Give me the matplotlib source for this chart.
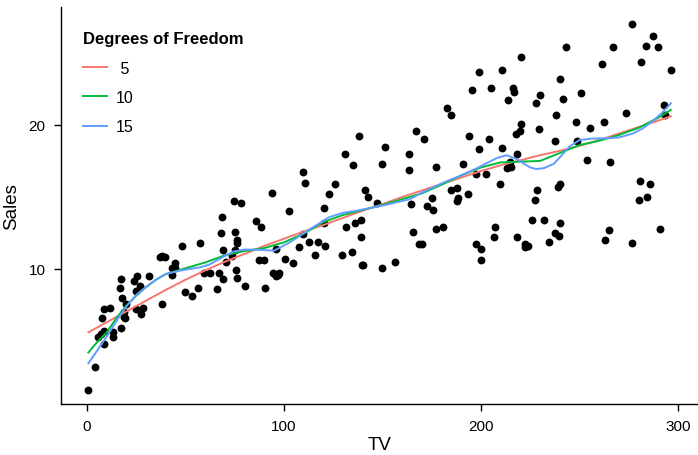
import matplotlib
matplotlib.use("Agg")
import matplotlib.pyplot as plt

plt.rcParams['font.family'] = ['Liberation Sans', 'DejaVu Sans']

# Advertising data: TV budget vs. sales
tv = [230.1, 44.5, 17.2, 151.5, 180.8, 8.7, 57.5, 120.2, 8.6, 199.8,
      66.1, 214.7, 23.8, 97.5, 204.1, 195.4, 67.8, 281.4, 69.2, 147.3,
      218.4, 237.4, 13.2, 228.3, 62.3, 262.9, 142.9, 240.1, 248.8, 70.6,
      292.9, 112.9, 97.2, 265.6, 95.7, 290.7, 266.9, 74.7, 43.1, 228.0,
      202.5, 177.0, 293.6, 206.9, 25.1, 175.1, 89.7, 239.9, 227.2, 66.9,
      199.8, 100.4, 216.4, 182.6, 262.7, 198.9, 7.3, 136.2, 210.8, 210.7,
      53.5, 261.3, 239.3, 102.7, 131.1, 69.0, 31.5, 139.3, 237.4, 216.8,
      199.1, 109.8, 26.8, 129.4, 213.4, 16.9, 27.5, 120.5, 5.4, 116.0,
      76.4, 239.8, 75.3, 68.4, 213.5, 193.2, 76.3, 110.7, 88.3, 109.8,
      134.3, 28.6, 217.7, 250.9, 107.4, 163.3, 197.6, 184.9, 289.7, 135.2,
      222.4, 296.4, 280.2, 187.9, 238.2, 137.9, 25.0, 90.4, 13.1, 255.4,
      225.8, 241.7, 175.7, 209.6, 78.2, 75.1, 139.2, 76.4, 125.7, 19.4,
      141.3, 18.8, 224.0, 123.1, 229.5, 87.2, 7.8, 80.2, 220.3, 59.6,
      0.7, 265.2, 8.4, 219.8, 36.9, 48.3, 25.6, 273.7, 43.0, 184.9,
      73.4, 193.7, 220.5, 104.6, 96.2, 140.3, 240.1, 243.2, 38.0, 44.7,
      280.7, 121.0, 197.6, 171.3, 187.8, 4.1, 93.9, 149.8, 11.7, 131.7,
      172.5, 85.7, 188.4, 163.5, 117.2, 234.5, 17.9, 206.8, 215.4, 284.3,
      50.0, 164.5, 19.6, 168.4, 222.4, 276.9, 248.4, 170.2, 276.7, 165.6,
      156.6, 218.5, 56.2, 287.6, 253.8, 205.0, 139.5, 191.1, 286.0, 18.7,
      39.5, 75.5, 17.2, 166.8, 149.7, 38.2, 94.2, 177.0, 283.6, 232.1]
sales = [22.1, 10.4, 9.3, 18.5, 12.9, 7.2, 11.8, 13.2, 4.8, 10.6,
         8.6, 17.4, 9.2, 9.7, 19.0, 22.4, 12.5, 24.4, 11.3, 14.6,
         18.0, 12.5, 5.6, 15.5, 9.7, 12.0, 15.0, 15.9, 18.9, 10.5,
         21.4, 11.9, 9.6, 17.4, 9.5, 12.8, 25.4, 14.7, 10.1, 21.5,
         16.6, 17.1, 20.7, 12.9, 8.5, 14.9, 10.6, 23.2, 14.8, 9.7,
         11.4, 10.7, 22.6, 21.2, 20.2, 23.7, 5.5, 13.2, 23.8, 18.4,
         8.1, 24.2, 15.7, 14.0, 18.0, 9.3, 9.5, 13.4, 18.9, 22.3,
         18.3, 12.4, 8.8, 11.0, 17.0, 8.7, 6.9, 14.2, 5.3, 11.0,
         11.8, 12.3, 11.3, 13.6, 21.7, 15.2, 12.0, 16.0, 12.9, 16.7,
         11.2, 7.3, 19.4, 22.2, 11.5, 16.9, 11.7, 15.5, 25.4, 17.2,
         11.7, 23.8, 14.8, 14.7, 20.7, 19.2, 7.2, 8.7, 5.3, 19.8,
         13.4, 21.8, 14.1, 15.9, 14.6, 12.6, 12.2, 9.4, 15.9, 6.6,
         15.5, 7.0, 11.6, 15.2, 19.7, 10.6, 6.6, 8.8, 24.7, 9.7,
         1.6, 12.7, 5.7, 19.6, 10.8, 11.6, 9.5, 20.8, 9.6, 20.7,
         10.9, 19.2, 20.1, 10.4, 11.4, 10.3, 13.2, 25.4, 10.9, 10.1,
         16.1, 11.6, 16.6, 19.0, 15.6, 3.2, 15.3, 10.1, 7.3, 12.9,
         14.4, 13.3, 14.9, 18.0, 11.9, 11.9, 8.0, 12.2, 17.1, 15.0,
         8.4, 14.5, 7.6, 11.7, 11.5, 27.0, 20.2, 11.7, 11.8, 12.6,
         10.5, 12.2, 8.7, 26.2, 17.6, 22.6, 10.3, 17.3, 15.9, 6.7,
         10.8, 9.9, 5.9, 19.6, 17.3, 7.6, 9.7, 12.8, 25.5, 13.4]

# smoothing spline fits, one per degrees-of-freedom setting
fit5_tv = [0.7, 10, 20, 30, 40, 50, 60, 70, 80, 90, 100, 110, 120, 130, 140, 150,
           160, 170, 180, 190, 200, 210, 220, 230, 240, 250, 260, 270, 280, 290, 296.4]
fit5_sales = [5.6, 6.3, 7.05, 7.8, 8.55, 9.25, 9.9, 10.5, 11.05, 11.6, 12.1, 12.6,
              13.05, 13.55, 14.05, 14.5, 15.0, 15.45, 15.9, 16.35, 16.8, 17.2, 17.55,
              17.9, 18.2, 18.55, 18.95, 19.4, 19.85, 20.3, 20.6]

fit10_tv = [0.7, 5, 10, 15, 20, 25, 30, 35, 40, 50, 60, 70, 80, 90, 100, 110, 120,
            130, 140, 150, 160, 170, 180, 190, 200, 210, 220, 230, 240, 250, 260,
            270, 280, 290, 296.4]
fit10_sales = [4.2, 4.9, 5.6, 6.6, 7.45, 8.15, 8.75, 9.25, 9.65, 10.05, 10.45, 10.95,
               11.25, 11.45, 11.85, 12.45, 13.25, 13.75, 14.1, 14.45, 14.85, 15.25,
               15.85, 16.5, 17.05, 17.4, 17.45, 17.5, 18.05, 18.6, 18.9, 19.3, 19.8,
               20.5, 21.05]

fit15_tv = [0.7, 5, 10, 15, 20, 25, 30, 35, 40, 47, 52, 57, 62, 68, 74, 80, 86, 95,
            103, 108, 113, 123, 130, 137, 150, 164, 170, 181, 190, 198, 208, 213,
            218, 225, 228, 232, 237, 241, 245, 250, 256, 262, 270, 277, 282, 287.5,
            292, 296.4]
fit15_sales = [3.45, 4.3, 5.3, 6.4, 7.4, 8.2, 8.75, 9.25, 9.65, 9.88, 10.0, 10.1,
               10.3, 10.75, 11.2, 11.35, 11.34, 11.27, 11.85, 12.3, 12.75, 13.6,
               13.9, 14.05, 14.4, 14.85, 15.3, 16.0, 16.5, 17.0, 17.7, 17.9, 17.64,
               17.05, 16.94, 17.0, 17.3, 17.9, 18.5, 18.95, 19.05, 19.07, 19.13, 19.4,
               19.75, 20.3, 20.85, 21.5]

fig = plt.figure(figsize=(6.98, 4.56), dpi=100)
ax = fig.add_axes([61 / 698, 51 / 456, 637 / 698, 397 / 456])

ax.scatter(tv, sales, s=32, color='black', linewidths=0, zorder=2)
ax.plot(fit5_tv, fit5_sales, color='#F8766D', lw=1.4, label=' 5', zorder=3)
ax.plot(fit10_tv, fit10_sales, color='#00BA38', lw=1.4, label='10', zorder=3)
ax.plot(fit15_tv, fit15_sales, color='#619CFF', lw=1.4, label='15', zorder=3)

ax.set_xlim(-13.2, 310.2)
ax.set_ylim(0.625, 28.19)
ax.set_xticks([0, 100, 200, 300])
ax.set_yticks([10, 20])
ax.spines['top'].set_visible(False)
ax.spines['right'].set_visible(False)
ax.spines['left'].set_linewidth(1.0)
ax.spines['bottom'].set_linewidth(1.0)
ax.tick_params(length=5, width=1.0, labelsize=11, colors='black', pad=6)
ax.set_xlabel('TV', fontsize=13.5, labelpad=2)
ax.set_ylabel('Sales', fontsize=13.5, labelpad=6)

leg = ax.legend(title='Degrees of Freedom', loc='upper left',
                bbox_to_anchor=(0.012, 0.975), frameon=False, fontsize=11.5,
                title_fontproperties={'weight': 'bold', 'size': 12},
                handlelength=1.5, handletextpad=0.55, labelspacing=0.9)
leg._legend_box.align = 'left'

fig.savefig('out.png', dpi=100)
